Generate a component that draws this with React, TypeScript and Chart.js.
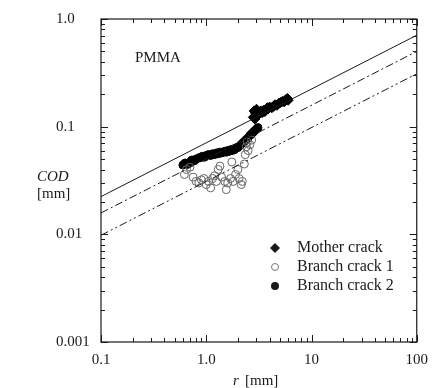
import React, { useEffect, useRef } from 'react';
import { Chart, registerables } from 'chart.js';

Chart.register(...registerables);

const xTicks = [0.1, 1, 10, 100];
const xTickLabels = ['0.1', '1.0', '10', '100'];
const yTicks = [0.001, 0.01, 0.1, 1];
const yTickLabels = ['0.001', '0.01', '0.1', '1.0'];

const lineR = [0.1, 100];
const solidCOD = [0.0224, 0.707];
const dashDotCOD = [0.0158, 0.5];
const dashDotDotCOD = [0.0098, 0.31];

const motherR = [2.8, 2.85, 2.9, 2.95, 3.0, 3.05, 3.1, 3.2, 3.3, 3.4, 3.5, 3.6, 3.7, 3.8, 3.9, 4.0, 4.2, 4.4, 4.5, 4.7, 4.9, 5.1, 5.3, 5.5, 5.7, 5.9, 6.0];
const motherCOD = [0.122, 0.14, 0.118, 0.132, 0.145, 0.128, 0.138, 0.132, 0.14, 0.135, 0.142, 0.138, 0.145, 0.15, 0.147, 0.152, 0.15, 0.155, 0.16, 0.158, 0.165, 0.168, 0.172, 0.17, 0.178, 0.183, 0.176];

const branch1R = [0.62, 0.65, 0.7, 0.75, 0.8, 0.85, 0.9, 0.95, 1.0, 1.05, 1.1, 1.15, 1.2, 1.25, 1.3, 1.35, 1.4, 1.5, 1.55, 1.6, 1.7, 1.75, 1.8, 1.9, 2.0, 2.05, 2.15, 2.2, 2.3, 2.35, 2.4, 2.45, 2.5, 2.6, 2.7];
const branch1COD = [0.036, 0.04, 0.042, 0.034, 0.031, 0.03, 0.032, 0.033, 0.029, 0.031, 0.027, 0.033, 0.035, 0.031, 0.04, 0.043, 0.034, 0.031, 0.026, 0.03, 0.033, 0.047, 0.031, 0.036, 0.04, 0.033, 0.029, 0.031, 0.045, 0.055, 0.065, 0.072, 0.06, 0.068, 0.075];

const branch2R = [0.6, 0.63, 0.66, 0.7, 0.73, 0.76, 0.8, 0.84, 0.88, 0.92, 0.96, 1.0, 1.05, 1.1, 1.15, 1.2, 1.25, 1.3, 1.35, 1.4, 1.45, 1.5, 1.55, 1.6, 1.65, 1.7, 1.75, 1.8, 1.85, 1.9, 1.95, 2.0, 2.1, 2.2, 2.3, 2.4, 2.5, 2.6, 2.7, 2.8, 2.9, 3.0, 3.1];
const branch2COD = [0.044, 0.046, 0.045, 0.047, 0.049, 0.048, 0.05, 0.051, 0.052, 0.053, 0.052, 0.054, 0.055, 0.054, 0.056, 0.055, 0.057, 0.056, 0.058, 0.057, 0.058, 0.059, 0.058, 0.06, 0.059, 0.061, 0.06, 0.062, 0.061, 0.063, 0.064, 0.064, 0.067, 0.07, 0.073, 0.076, 0.079, 0.083, 0.086, 0.089, 0.092, 0.095, 0.098];

const legendLabels = ['Mother crack', 'Branch crack 1', 'Branch crack 2'];
const materialLabel = 'PMMA';

const SERIF = '"Liberation Serif", "Times New Roman", serif';
const INK = '#1a1a1a';

const toPts = (xs: number[], ys: number[]) => xs.map((x, i) => ({ x, y: ys[i] }));

const decorPlugin = {
  id: 'decor',
  afterDraw(chart: any) {
    const ctx = chart.ctx;
    const { left, right, top, bottom } = chart.chartArea;
    const xs = chart.scales.x;
    const ys = chart.scales.y;
    ctx.save();
    ctx.strokeStyle = INK;
    ctx.lineWidth = 1.2;
    ctx.strokeRect(left, top, right - left, bottom - top);
    ctx.lineWidth = 1;
    const drawX = (v: number, len: number) => {
      const px = Math.round(xs.getPixelForValue(v)) + 0.5;
      ctx.beginPath();
      ctx.moveTo(px, bottom); ctx.lineTo(px, bottom - len);
      ctx.moveTo(px, top); ctx.lineTo(px, top + len);
      ctx.stroke();
    };
    const drawY = (v: number, len: number) => {
      const py = Math.round(ys.getPixelForValue(v)) + 0.5;
      ctx.beginPath();
      ctx.moveTo(left, py); ctx.lineTo(left + len, py);
      ctx.moveTo(right, py); ctx.lineTo(right - len, py);
      ctx.stroke();
    };
    for (let d = 0; d < xTicks.length; d++) {
      const base = xTicks[d];
      drawX(base, 7);
      if (d < xTicks.length - 1) for (let k = 2; k <= 9; k++) drawX(base * k, 4);
    }
    for (let d = 0; d < yTicks.length; d++) {
      const base = yTicks[d];
      drawY(base, 7);
      if (d < yTicks.length - 1) for (let k = 2; k <= 9; k++) drawY(base * k, 4);
    }
    ctx.fillStyle = INK;
    ctx.textBaseline = 'middle';
    ctx.textAlign = 'left';
    ctx.font = `15px ${SERIF}`;
    ctx.fillText(materialLabel, 135, 58);
    ctx.font = `italic 15px ${SERIF}`;
    ctx.fillText('COD', 37, 177);
    ctx.font = `15px ${SERIF}`;
    ctx.fillText('[mm]', 37, 194);
    ctx.font = `italic 15px ${SERIF}`;
    ctx.fillText('r', 233, 381);
    ctx.font = `15px ${SERIF}`;
    ctx.fillText('[mm]', 245, 381);
    const lx = 275;
    const rows = [248, 267, 286];
    ctx.font = `16px ${SERIF}`;
    legendLabels.forEach((t, i) => ctx.fillText(t, 297, rows[i]));
    ctx.beginPath();
    ctx.moveTo(lx, rows[0] - 5); ctx.lineTo(lx + 5, rows[0]); ctx.lineTo(lx, rows[0] + 5); ctx.lineTo(lx - 5, rows[0]);
    ctx.closePath(); ctx.fill();
    ctx.beginPath();
    ctx.strokeStyle = '#777';
    ctx.arc(lx, rows[1], 3.5, 0, Math.PI * 2); ctx.stroke();
    ctx.beginPath();
    ctx.arc(lx, rows[2], 4, 0, Math.PI * 2); ctx.fill();
    ctx.restore();
  },
};

export default function App() {
  const ref = useRef<HTMLCanvasElement>(null);
  useEffect(() => {
    document.body.style.margin = '0';
    const chart = new Chart(ref.current!, {
      type: 'scatter',
      data: {
        datasets: [
          { type: 'line', data: toPts(lineR, solidCOD), borderColor: INK, borderWidth: 1, pointRadius: 0 } as any,
          { type: 'line', data: toPts(lineR, dashDotCOD), borderColor: INK, borderWidth: 1, pointRadius: 0, borderDash: [8, 3, 2, 3] } as any,
          { type: 'line', data: toPts(lineR, dashDotDotCOD), borderColor: INK, borderWidth: 1, pointRadius: 0, borderDash: [8, 3, 2, 3, 2, 3] } as any,
          { label: 'Branch crack 1', data: toPts(branch1R, branch1COD), pointStyle: 'circle', pointRadius: 4, backgroundColor: 'rgba(0,0,0,0)', borderColor: '#666', borderWidth: 1 },
          { label: 'Branch crack 2', data: toPts(branch2R, branch2COD), pointStyle: 'circle', pointRadius: 4, backgroundColor: '#000', borderColor: '#000', borderWidth: 1 },
          { label: 'Mother crack', data: toPts(motherR, motherCOD), pointStyle: 'rectRot', pointRadius: 5, backgroundColor: '#000', borderColor: '#000', borderWidth: 1 },
        ],
      },
      options: {
        animation: false,
        responsive: true,
        maintainAspectRatio: false,
        layout: { padding: { left: 56, right: 14, top: 19, bottom: 0 } },
        plugins: { legend: { display: false }, tooltip: { enabled: false } },
        scales: {
          x: {
            type: 'logarithmic', min: 0.1, max: 100,
            grid: { display: false, drawTicks: false }, border: { display: false },
            afterBuildTicks: (s: any) => { s.ticks = xTicks.map((v) => ({ value: v })); },
            afterFit: (s: any) => { s.height = 46; },
            ticks: {
              autoSkip: false, maxRotation: 0, padding: 9, color: INK,
              font: { family: SERIF, size: 15 },
              callback: (v: any) => xTickLabels[xTicks.indexOf(Number(v))] ?? '',
            },
          },
          y: {
            type: 'logarithmic', min: 0.001, max: 1,
            grid: { display: false, drawTicks: false }, border: { display: false },
            afterBuildTicks: (s: any) => { s.ticks = yTicks.map((v) => ({ value: v })); },
            afterFit: (s: any) => { s.width = 45; },
            ticks: {
              autoSkip: false, crossAlign: 'far', color: INK,
              font: { family: SERIF, size: 15 },
              callback: (v: any) => yTickLabels[yTicks.indexOf(Number(v))] ?? '',
            },
          },
        },
      },
      plugins: [decorPlugin],
    });
    return () => chart.destroy();
  }, []);
  return (
    <div style={{ width: 437, height: 388, position: 'relative', background: '#fff' }}>
      <canvas ref={ref} />
    </div>
  );
}
